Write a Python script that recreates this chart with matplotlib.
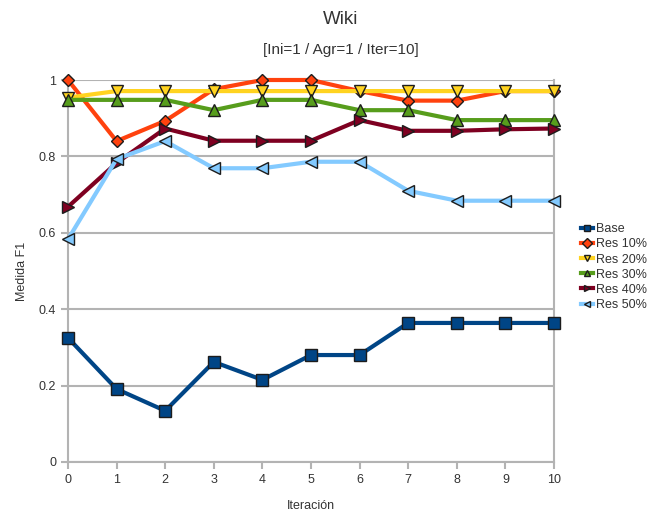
import matplotlib
matplotlib.use("Agg")
import matplotlib.pyplot as plt

plt.rcParams['font.family'] = ['Liberation Sans', 'DejaVu Sans']

iteraciones = list(range(11))
base = [0.325, 0.191, 0.134, 0.262, 0.215, 0.280, 0.280, 0.364, 0.364, 0.364, 0.364]
res10 = [1.0, 0.840, 0.893, 0.976, 1.0, 1.0, 0.971, 0.946, 0.946, 0.971, 0.971]
res20 = [0.954, 0.971, 0.971, 0.971, 0.971, 0.971, 0.971, 0.971, 0.971, 0.971, 0.971]
res30 = [0.948, 0.948, 0.948, 0.921, 0.948, 0.948, 0.921, 0.921, 0.895, 0.895, 0.895]
res40 = [0.668, 0.783, 0.873, 0.841, 0.841, 0.841, 0.895, 0.867, 0.867, 0.871, 0.873]
res50 = [0.583, 0.793, 0.840, 0.769, 0.769, 0.786, 0.786, 0.710, 0.684, 0.684, 0.684]

series = [
    ("Base", base, "#004586", "s", 9),
    ("Res 10%", res10, "#ff420e", "D", 6.5),
    ("Res 20%", res20, "#ffd320", "v", 8),
    ("Res 30%", res30, "#579d1c", "^", 8),
    ("Res 40%", res40, "#7e0021", ">", 8),
    ("Res 50%", res50, "#83caff", "<", 8),
]

fig = plt.figure(figsize=(6.49, 5.11), dpi=100)
ax = fig.add_axes([68 / 649, 1 - 462 / 511, (554 - 68) / 649, (462 - 80) / 511])

for name, vals, color, marker, ms in series:
    ax.plot(iteraciones, vals, color=color, lw=3, marker=marker, ms=ms,
            markerfacecolor=color, markeredgecolor="#1c1c1c", markeredgewidth=1,
            label=name, clip_on=False, zorder=3)

ax.set_xlim(0, 10)
ax.set_ylim(0, 1)
ax.set_xticks(iteraciones)
ax.set_yticks([0, 0.2, 0.4, 0.6, 0.8, 1.0])
ax.set_yticklabels(["0", "0.2", "0.4", "0.6", "0.8", "1"])
ax.grid(axis="y", color="#b3b3b3", lw=1.5)
ax.set_axisbelow(True)
for side in ["left", "bottom", "right"]:
    ax.spines[side].set_color("#b3b3b3")
    ax.spines[side].set_linewidth(1.5)
ax.spines["top"].set_visible(False)
ax.tick_params(colors="#b3b3b3", width=1.5, length=5, labelcolor="#333333", labelsize=9)

ax.set_xlabel("Iteración", fontsize=9, color="#333333", labelpad=10)
ax.set_ylabel("Medida F1", fontsize=9, color="#333333", labelpad=8)

fig.text(0.525, 1 - 19 / 511, "Wiki", ha="center", va="center", fontsize=13.5, color="#333333")
fig.text(0.525, 1 - 50 / 511, "[Ini=1 / Agr=1 / Iter=10]", ha="center", va="center",
         fontsize=11, color="#333333")

leg = ax.legend(loc="center left", bbox_to_anchor=(1.045, 0.51), frameon=False,
                fontsize=9, handlelength=1.0, handletextpad=0.25, labelspacing=0.25,
                borderaxespad=0)
for t in leg.get_texts():
    t.set_color("#333333")
for h in leg.legend_handles:
    h.set_markersize(5)
    h.set_linewidth(3)

fig.savefig("out.png", dpi=100)
